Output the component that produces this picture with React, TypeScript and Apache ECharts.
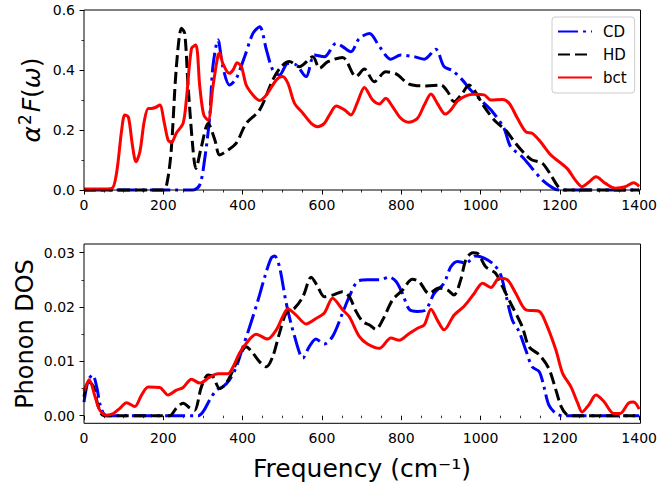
import React, { useEffect, useRef } from "react";
import * as echarts from "echarts";

const FONT = "DejaVu Sans";

// ---------- top panel: alpha^2 F(omega) ----------
const cdTopFreq = [0, 275, 292, 304, 317, 325, 338, 350, 367, 384, 405, 426, 443, 460, 476, 493, 514, 535, 560, 581, 606, 636, 652, 673, 694, 720, 745, 774, 799, 833, 858, 887, 908, 929, 954, 975, 1005, 1030, 1059, 1076, 1105, 1130, 1156, 1181, 1197, 1400];
const cdTopVal = [0, 0, 0.017, 0.1, 0.244, 0.411, 0.5, 0.411, 0.35, 0.372, 0.444, 0.522, 0.544, 0.467, 0.4, 0.383, 0.422, 0.417, 0.378, 0.45, 0.444, 0.489, 0.478, 0.461, 0.505, 0.522, 0.478, 0.436, 0.45, 0.444, 0.436, 0.469, 0.411, 0.398, 0.367, 0.333, 0.294, 0.261, 0.206, 0.144, 0.111, 0.072, 0.033, 0.008, 0, 0];

const hdTopFreq = [0, 200, 210, 220, 233, 246, 254, 262, 275, 282, 296, 313, 330, 342, 363, 384, 409, 443, 476, 497, 518, 543, 577, 594, 615, 652, 686, 707, 732, 761, 787, 820, 862, 900, 917, 933, 954, 971, 984, 1009, 1038, 1063, 1088, 1114, 1130, 1156, 1177, 1197, 1210, 1400];
const hdTopVal = [0, 0, 0.028, 0.133, 0.411, 0.539, 0.522, 0.356, 0.133, 0.072, 0.144, 0.222, 0.167, 0.117, 0.133, 0.156, 0.222, 0.267, 0.367, 0.411, 0.428, 0.411, 0.444, 0.406, 0.428, 0.442, 0.378, 0.403, 0.361, 0.394, 0.387, 0.353, 0.347, 0.35, 0.328, 0.294, 0.322, 0.35, 0.333, 0.278, 0.228, 0.2, 0.156, 0.117, 0.1, 0.089, 0.05, 0.009, 0, 0];

const bctTopFreq = [0, 40, 70, 82, 95, 103, 112, 122, 131, 141, 152, 162, 170, 180, 191, 203, 212, 220, 233, 250, 258, 271, 282, 292, 302, 313, 325, 338, 342, 350, 366, 376, 386, 397, 409, 426, 443, 460, 485, 500, 514, 531, 552, 573, 589, 606, 619, 636, 657, 673, 690, 707, 728, 745, 761, 778, 799, 818, 841, 858, 875, 891, 911, 925, 942, 963, 984, 1009, 1026, 1055, 1072, 1093, 1114, 1130, 1151, 1177, 1218, 1239, 1256, 1272, 1291, 1315, 1340, 1365, 1386, 1400];
const bctTopVal = [0.003, 0.003, 0.005, 0.056, 0.2, 0.25, 0.243, 0.15, 0.094, 0.128, 0.23, 0.272, 0.272, 0.275, 0.283, 0.22, 0.167, 0.158, 0.19, 0.223, 0.3, 0.472, 0.483, 0.344, 0.25, 0.233, 0.344, 0.45, 0.456, 0.422, 0.389, 0.4, 0.424, 0.411, 0.35, 0.317, 0.298, 0.317, 0.367, 0.378, 0.356, 0.289, 0.256, 0.222, 0.211, 0.222, 0.25, 0.28, 0.267, 0.25, 0.294, 0.342, 0.3, 0.287, 0.306, 0.278, 0.239, 0.226, 0.239, 0.283, 0.32, 0.289, 0.253, 0.267, 0.297, 0.314, 0.319, 0.317, 0.3, 0.302, 0.289, 0.239, 0.194, 0.189, 0.161, 0.117, 0.072, 0.033, 0.011, 0.025, 0.044, 0.022, 0.006, 0.011, 0.024, 0.012];

// ---------- bottom panel: phonon DOS ----------
const cdDosFreq = [0, 11, 22, 32, 42, 57, 288, 300, 317, 334, 350, 367, 384, 401, 418, 439, 456, 472, 481, 493, 510, 531, 552, 568, 585, 606, 627, 652, 669, 690, 715, 745, 770, 787, 803, 820, 841, 862, 883, 908, 925, 942, 963, 988, 1009, 1034, 1051, 1063, 1080, 1097, 1114, 1130, 1148, 1160, 1172, 1190, 1206, 1400];
const cdDosVal = [0.0025, 0.0066, 0.0075, 0.0053, 0.0017, 0, 0, 0.0007, 0.0029, 0.0047, 0.0053, 0.0066, 0.009, 0.0127, 0.0164, 0.0213, 0.0256, 0.029, 0.0294, 0.0274, 0.0207, 0.0146, 0.0106, 0.0127, 0.0141, 0.0132, 0.0146, 0.0189, 0.0219, 0.0247, 0.025, 0.025, 0.0255, 0.0247, 0.0225, 0.0196, 0.0192, 0.0195, 0.0225, 0.0244, 0.0274, 0.0284, 0.0281, 0.0294, 0.029, 0.0278, 0.0259, 0.0225, 0.0176, 0.0155, 0.0121, 0.009, 0.0081, 0.0053, 0.002, 0.0004, 0, 0];

const hdDosFreq = [0, 11, 24, 36, 50, 216, 233, 250, 267, 279, 296, 313, 325, 342, 359, 376, 392, 409, 426, 443, 460, 476, 493, 510, 531, 552, 573, 589, 606, 627, 652, 669, 686, 703, 720, 736, 753, 778, 803, 828, 845, 870, 895, 917, 933, 950, 963, 980, 992, 1013, 1038, 1055, 1080, 1105, 1122, 1148, 1172, 1190, 1203, 1216, 1230, 1400];
const hdDosVal = [0.0035, 0.0063, 0.0053, 0.0017, 0, 0, 0.0014, 0.0023, 0.0014, 0.001, 0.0053, 0.0075, 0.0072, 0.005, 0.006, 0.0084, 0.0109, 0.0127, 0.0115, 0.0099, 0.009, 0.0109, 0.0152, 0.0189, 0.0198, 0.0219, 0.0255, 0.0238, 0.0219, 0.0222, 0.0228, 0.0219, 0.0192, 0.0173, 0.0167, 0.0159, 0.0176, 0.0213, 0.0231, 0.0251, 0.0247, 0.0225, 0.0235, 0.0231, 0.0222, 0.025, 0.0287, 0.03, 0.0299, 0.0274, 0.0262, 0.0238, 0.0201, 0.0164, 0.0127, 0.0112, 0.0087, 0.0047, 0.0017, 0.0003, 0, 0];

const bctDosFreq = [0, 5, 13, 28, 40, 57, 74, 91, 107, 128, 145, 162, 191, 212, 233, 250, 271, 292, 317, 338, 363, 376, 392, 409, 434, 463, 485, 501, 514, 535, 560, 585, 606, 627, 652, 669, 694, 715, 745, 774, 795, 816, 841, 858, 875, 891, 908, 933, 958, 984, 1005, 1026, 1047, 1068, 1089, 1114, 1148, 1165, 1190, 1207, 1228, 1245, 1256, 1273, 1291, 1311, 1336, 1352, 1373, 1386, 1400];
const bctDosVal = [0.0045, 0.0055, 0.0066, 0.0035, 0.001, 0.0001, 0.0004, 0.0014, 0.0024, 0.0017, 0.0038, 0.0053, 0.0052, 0.0038, 0.0047, 0.0052, 0.0067, 0.006, 0.0071, 0.0077, 0.0077, 0.009, 0.0115, 0.0133, 0.015, 0.0141, 0.0158, 0.0182, 0.0197, 0.0185, 0.0169, 0.0179, 0.0189, 0.0216, 0.0195, 0.0182, 0.0146, 0.0132, 0.0124, 0.0143, 0.0139, 0.0149, 0.0161, 0.0167, 0.0196, 0.0176, 0.0158, 0.0185, 0.0201, 0.0225, 0.0244, 0.0236, 0.0253, 0.025, 0.0225, 0.0195, 0.0192, 0.017, 0.0121, 0.0078, 0.0053, 0.0023, 0.0007, 0.002, 0.0038, 0.0026, 0.0004, 0.0004, 0.0023, 0.0025, 0.0012];

const seriesNames = ["CD", "HD", "bct"];
const topTicks = { min: 0, max: 0.6, interval: 0.2 };
const dosTicks = { min: 0, max: 0.03, interval: 0.01 };
const freqTicks = { min: 0, max: 1400, interval: 200 };

const zip = (xs: number[], ys: number[]) => xs.map((x, i) => [x, ys[i]]);

const STYLES: Record<string, any> = {
  CD: { color: "#0000ff", width: 3, type: [20, 5, 3, 5] },
  HD: { color: "#000000", width: 3, type: [12, 5] },
  bct: { color: "#ff0000", width: 3, type: "solid" },
};

function mkSeries(name: string, idx: number, data: number[][]) {
  return {
    name,
    type: "line",
    xAxisIndex: idx,
    yAxisIndex: idx,
    data,
    symbol: "none",
    showSymbol: false,
    smooth: 0.3,
    clip: false,
    color: STYLES[name].color,
    lineStyle: { ...STYLES[name], cap: "butt", join: "round" },
  };
}

const axisLabelBase = { color: "#000", fontSize: 14, fontFamily: FONT };

function xAxisCfg(gridIndex: number, offset: number) {
  return {
    type: "value",
    gridIndex,
    ...freqTicks,
    offset,
    axisLine: { show: false },
    axisTick: { show: true, length: 4.5, lineStyle: { color: "#000", width: 1 } },
    minorTick: { show: true, splitNumber: 4, length: 2.5, lineStyle: { color: "#000", width: 0.8 } },
    splitLine: { show: false },
    minorSplitLine: { show: false },
    axisLabel: { ...axisLabelBase, margin: 8, formatter: (v: number) => String(v) },
  };
}

function yAxisCfg(gridIndex: number, ticks: any, digits: number) {
  return {
    type: "value",
    gridIndex,
    ...ticks,
    axisLine: { show: false },
    axisTick: { show: true, length: 4.5, lineStyle: { color: "#000", width: 1 } },
    minorTick: { show: true, splitNumber: 2, length: 2.5, lineStyle: { color: "#000", width: 0.8 } },
    splitLine: { show: false },
    minorSplitLine: { show: false },
    axisLabel: { ...axisLabelBase, margin: 9, formatter: (v: number) => v.toFixed(digits) },
  };
}

const option: any = {
  animation: false,
  backgroundColor: "#fff",
  grid: [
    { left: 84, top: 10, width: 556.5, height: 180 },
    { left: 84, top: 252.7, width: 556.5, height: 163 },
  ],
  xAxis: [xAxisCfg(0, 0), xAxisCfg(1, 7.6)],
  yAxis: [yAxisCfg(0, topTicks, 1), yAxisCfg(1, dosTicks, 2)],
  legend: {
    data: seriesNames,
    orient: "vertical",
    left: 552,
    top: 17,
    padding: [7, 8, 8, 5],
    itemGap: 8,
    itemWidth: 34,
    itemHeight: 14,
    itemStyle: { opacity: 0 },
    backgroundColor: "rgba(255,255,255,0.9)",
    borderColor: "#cccccc",
    borderWidth: 1,
    borderRadius: 3,
    textStyle: { color: "#000", fontSize: 15, fontFamily: FONT, padding: [0, 0, 0, 6] },
  },
  graphic: [
    {
      type: "rect",
      silent: true,
      z: 100,
      shape: { x: 84, y: 10, width: 556.5, height: 180 },
      style: { fill: "none", stroke: "#000", lineWidth: 1 },
    },
    {
      type: "rect",
      silent: true,
      z: 100,
      shape: { x: 84, y: 244, width: 556.5, height: 179.3 },
      style: { fill: "none", stroke: "#000", lineWidth: 1 },
    },
    {
      type: "text",
      x: 31,
      y: 100,
      rotation: Math.PI / 2,
      style: {
        text: "{i|α}{s|2}{i|F}{n|(}{i|ω}{n|)}",
        rich: {
          i: { fontStyle: "italic", fontSize: 25, fontFamily: FONT, fill: "#000", lineHeight: 30 },
          n: { fontSize: 25, fontFamily: FONT, fill: "#000", lineHeight: 30 },
          s: { fontSize: 17, fontFamily: FONT, fill: "#000", verticalAlign: "top", padding: [0, 2, 0, 1], lineHeight: 18 },
        },
        fontSize: 25,
        fontFamily: FONT,
        fill: "#000",
        align: "center",
        verticalAlign: "middle",
      },
    },
    {
      type: "text",
      x: 25,
      y: 334,
      rotation: Math.PI / 2,
      style: {
        text: "Phonon DOS",
        fontSize: 24,
        fontFamily: FONT,
        fill: "#000",
        align: "center",
        verticalAlign: "middle",
      },
    },
    {
      type: "text",
      x: 362,
      y: 468,
      style: {
        text: "Frequency (cm⁻¹)",
        fontSize: 25,
        fontFamily: FONT,
        fill: "#000",
        align: "center",
        verticalAlign: "middle",
      },
    },
  ],
  series: [
    mkSeries("CD", 0, zip(cdTopFreq, cdTopVal)),
    mkSeries("HD", 0, zip(hdTopFreq, hdTopVal)),
    mkSeries("bct", 0, zip(bctTopFreq, bctTopVal)),
    mkSeries("CD", 1, zip(cdDosFreq, cdDosVal)),
    mkSeries("HD", 1, zip(hdDosFreq, hdDosVal)),
    mkSeries("bct", 1, zip(bctDosFreq, bctDosVal)),
  ],
};

export default function App() {
  const ref = useRef<HTMLDivElement>(null);
  useEffect(() => {
    if (!ref.current) return;
    const chart = echarts.init(ref.current, null, { renderer: "svg", width: 660, height: 487 });
    chart.setOption(option);
    return () => chart.dispose();
  }, []);
  return (
    <div
      ref={ref}
      style={{ position: "fixed", left: 0, top: 0, width: 660, height: 487, background: "#fff" }}
    />
  );
}
